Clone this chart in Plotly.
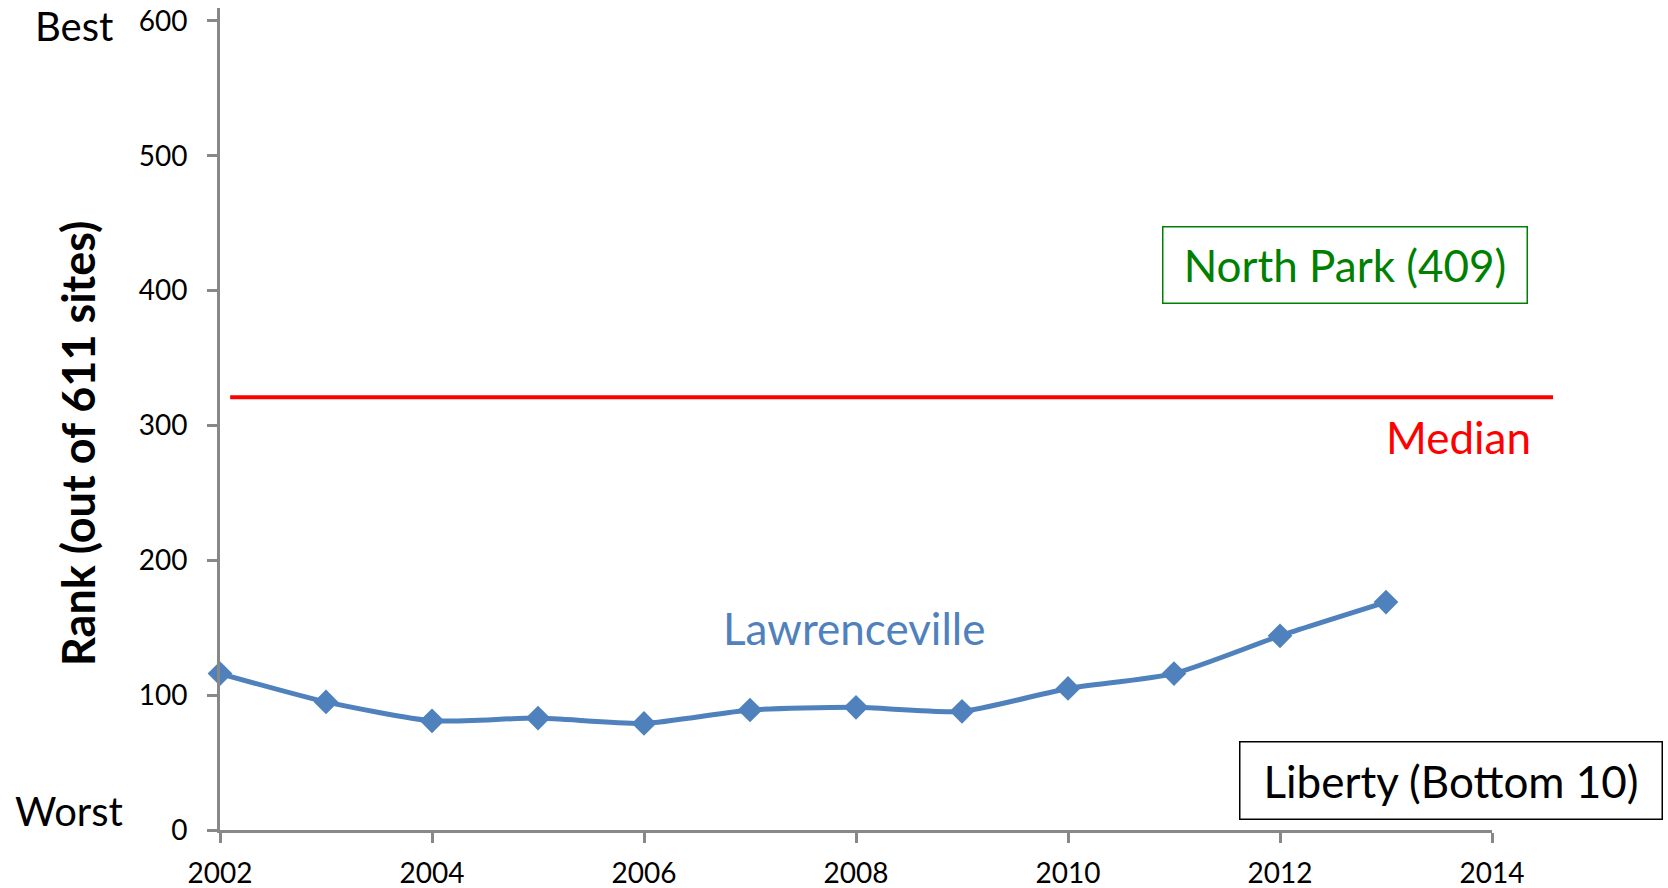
import plotly.graph_objects as go

years = [2002, 2003, 2004, 2005, 2006, 2007, 2008, 2009, 2010, 2011, 2012, 2013]
lawrenceville_rank = [116, 95, 81, 83, 79, 89, 91, 88, 105, 116, 144, 169]
median_rank = 321
y_ticks = [0, 100, 200, 300, 400, 500, 600]
x_ticks = [2002, 2004, 2006, 2008, 2010, 2012, 2014]

FONT = "Lato"
AXIS_GREY = "#888888"
BLUE = "#4F81BD"

fig = go.Figure()
fig.add_trace(go.Scatter(
    x=years, y=lawrenceville_rank, mode="lines+markers",
    line=dict(color=BLUE, width=5, shape="spline", smoothing=0.6),
    marker=dict(symbol="diamond", size=19, color=BLUE),
    cliponaxis=False, showlegend=False, hoverinfo="x+y",
))

# median reference line (extends a little past the axis end, as in the original)
fig.add_shape(type="line", xref="paper", yref="y",
              x0=0.008, x1=1.048, y0=median_rank, y1=median_rank,
              line=dict(color="#FF0000", width=4))

def txt(text, x, y, xref, yref, size, color, **kw):
    d = dict(text=text, x=x, y=y, xref=xref, yref=yref, showarrow=False,
             xanchor="center", yanchor="middle",
             font=dict(family=FONT, size=size, color=color))
    d.update(kw)
    return d

ann = [
    txt("Best", -0.1148, 0.978, "paper", "paper", 40, "black"),
    txt("Worst", -0.1187, 0.0231, "paper", "paper", 40, "black"),
    txt("<b>Rank (out of 611 sites)</b>", -0.1116, 0.4696, "paper", "paper", 45, "black",
        textangle=-90),
    txt("North Park (409)", 2012.61, 419, "x", "y", 44, "#008000",
        bordercolor="#008000", borderwidth=1.5, borderpad=9, bgcolor="white",
        width=345, height=57, align="center", valign="middle"),
    txt("Median", 2013.68, 291.4, "x", "y", 44, "#FF0000"),
    txt("Lawrenceville", 2007.98, 149.5, "x", "y", 44, BLUE),
    txt("Liberty (Bottom 10)", 2013.61, 36.7, "x", "y", 44, "black",
        bordercolor="black", borderwidth=1.5, borderpad=9, bgcolor="white",
        width=403, height=58, align="center", valign="middle"),
]

fig.update_layout(
    width=1668, height=888,
    margin=dict(l=220, r=176, t=8, b=58, autoexpand=False),
    paper_bgcolor="white", plot_bgcolor="white",
    annotations=ann,
    xaxis=dict(range=[2002, 2014], tickvals=x_ticks, ticktext=[str(v) for v in x_ticks],
               showgrid=False, zeroline=False, showline=True, linecolor=AXIS_GREY,
               linewidth=3, ticks="outside", ticklen=10, tickwidth=3, tickcolor=AXIS_GREY,
               ticklabelstandoff=6, ticklabeloverflow="allow", automargin=False,
               tickfont=dict(family=FONT, size=28, color="black")),
    yaxis=dict(range=[0, 609.6], tickvals=y_ticks, ticktext=[str(v) for v in y_ticks],
               showgrid=False, zeroline=False, showline=True, linecolor=AXIS_GREY,
               linewidth=3, ticks="outside", ticklen=10, tickwidth=3, tickcolor=AXIS_GREY,
               ticklabelstandoff=14, ticklabeloverflow="allow", automargin=False,
               tickfont=dict(family=FONT, size=28, color="black")),
)

fig.write_html("out.html", config={"displayModeBar": False},
               post_script="document.body.style.margin='0px';")
